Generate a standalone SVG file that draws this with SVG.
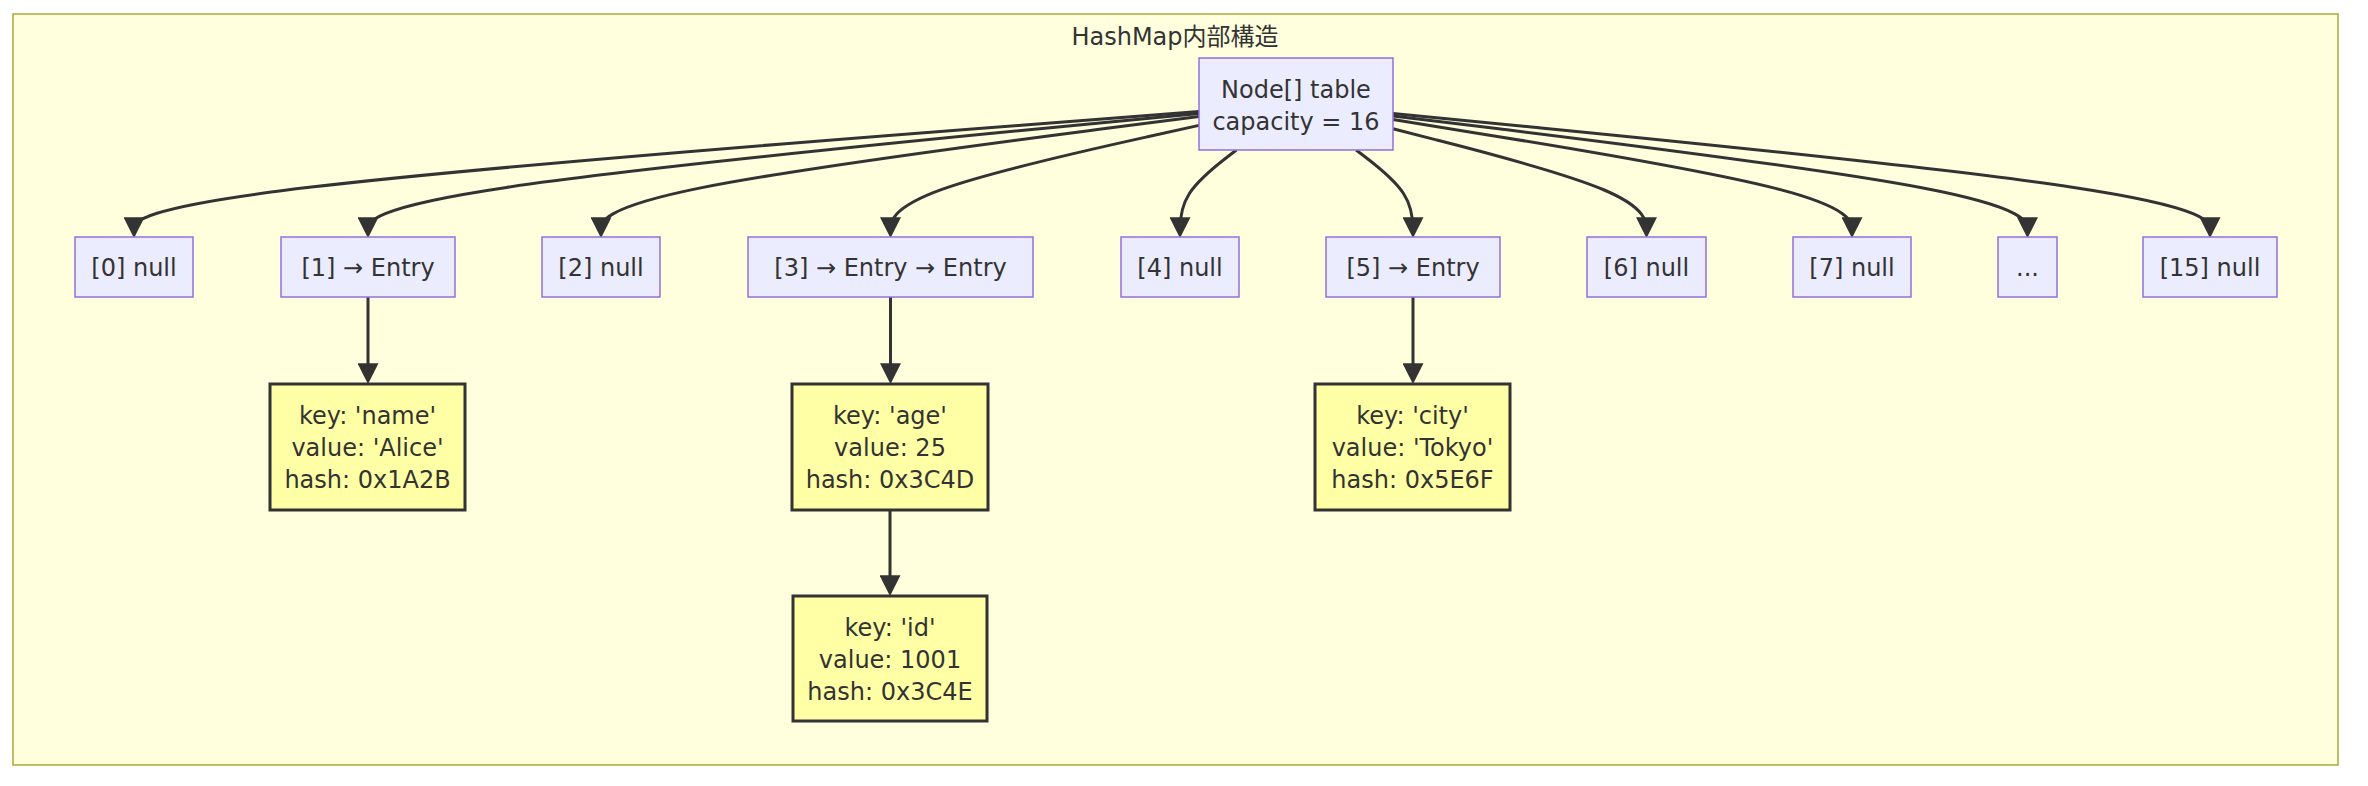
<svg xmlns="http://www.w3.org/2000/svg" width="2368" height="786" viewBox="0 0 2368 786">
<style>
.cluster{fill:#ffffde;stroke:#aaaa33;stroke-width:1.5}
.slot{fill:#ececff;stroke:#9370db;stroke-width:1.5}
.entry{fill:#ffffa5;stroke:#333333;stroke-width:3}
.t{font-family:"DejaVu Sans","Noto Sans CJK JP",sans-serif;font-size:24px;fill:#333333;text-anchor:middle}
.edge{fill:none;stroke:#333333;stroke-width:3;marker-end:url(#arrow)}
</style>
<defs>
<marker id="arrow" viewBox="0 0 10 10" refX="6" refY="5" markerUnits="userSpaceOnUse" markerWidth="21" markerHeight="21" orient="auto">
<path d="M0,0 L10,5 L0,10 z" fill="#333333"/>
</marker>
</defs>
<rect width="2368" height="786" fill="#ffffff"/>
<g id="cluster-hashmap">
<rect class="cluster" x="13" y="14" width="2325" height="751"/>
<text class="t" x="1175" y="45">HashMap内部構造</text>
</g>
<g id="connectors">
<path class="edge" d="M1199,111.5 L1021.5,125.2 C844,138.8 489,166.2 311.5,187.1 C134,208 134,222.5 134,229.75"/>
<path class="edge" d="M1199,113.4 L1060.5,126.75 C922,140.1 645,166.8 506.5,187.4 C368,208 368,222.5 368,229.75"/>
<path class="edge" d="M1199,116.5 L1099.3,129.3 C999.7,142.2 800.3,167.8 700.7,187.9 C601,208 601,222.5 601,229.75"/>
<path class="edge" d="M1199,125.4 L1147.6,136.75 C1096.2,148.1 993.3,170.8 941.9,189.4 C890.5,208 890.5,222.5 890.5,229.75"/>
<path class="edge" d="M1236.4,150 L1227,157.25 C1217.6,164.5 1198.8,179 1189.4,193.5 C1180,208 1180,222.5 1180,229.75"/>
<path class="edge" d="M1356.1,150 L1365.6,157.25 C1375.1,164.5 1394,179 1403.5,193.5 C1413,208 1413,222.5 1413,229.75"/>
<path class="edge" d="M1393,128.8 L1435.25,139.6 C1477.5,150.4 1562,171.9 1604.25,190 C1646.5,208 1646.5,222.5 1646.5,229.75"/>
<path class="edge" d="M1393,119.6 L1469.5,131.9 C1546,144.2 1699,168.9 1775.5,188.4 C1852,208 1852,222.5 1852,229.75"/>
<path class="edge" d="M1393,115.9 L1498.75,128.8 C1604.5,141.8 1816,167.6 1921.75,187.8 C2027.5,208 2027.5,222.5 2027.5,229.75"/>
<path class="edge" d="M1393,113.5 L1529.2,126.8 C1665.3,140.2 1937.7,166.8 2073.8,187.4 C2210,208 2210,222.5 2210,229.75"/>
<path class="edge" d="M368,297 L368,375.75"/>
<path class="edge" d="M890.5,297 L890.5,375.75"/>
<path class="edge" d="M1413,297 L1413,375.75"/>
<path class="edge" d="M890,510 L890,587.75"/>
</g>
<g id="table">
<rect class="slot" x="1199" y="58" width="194" height="92"/>
<text class="t" x="1296" y="97.5">Node[] table</text>
<text class="t" x="1296" y="129.5">capacity = 16</text>
</g>
<g id="slot0"><rect class="slot" x="75" y="237" width="118" height="60"/><text class="t" x="134" y="276">[0] null</text></g>
<g id="slot1"><rect class="slot" x="281" y="237" width="174" height="60"/><text class="t" x="368" y="276">[1] → Entry</text></g>
<g id="slot2"><rect class="slot" x="542" y="237" width="118" height="60"/><text class="t" x="601" y="276">[2] null</text></g>
<g id="slot3"><rect class="slot" x="748" y="237" width="285" height="60"/><text class="t" x="890.5" y="276">[3] → Entry → Entry</text></g>
<g id="slot4"><rect class="slot" x="1121" y="237" width="118" height="60"/><text class="t" x="1180" y="276">[4] null</text></g>
<g id="slot5"><rect class="slot" x="1326" y="237" width="174" height="60"/><text class="t" x="1413" y="276">[5] → Entry</text></g>
<g id="slot6"><rect class="slot" x="1587" y="237" width="119" height="60"/><text class="t" x="1646.5" y="276">[6] null</text></g>
<g id="slot7"><rect class="slot" x="1793" y="237" width="118" height="60"/><text class="t" x="1852" y="276">[7] null</text></g>
<g id="slotdots"><rect class="slot" x="1998" y="237" width="59" height="60"/><text class="t" x="2027.5" y="276">...</text></g>
<g id="slot15"><rect class="slot" x="2143" y="237" width="134" height="60"/><text class="t" x="2210" y="276">[15] null</text></g>
<g id="entry-name">
<rect class="entry" x="270" y="384" width="195" height="126"/>
<text class="t" x="367.5" y="424">key: 'name'</text>
<text class="t" x="367.5" y="456">value: 'Alice'</text>
<text class="t" x="367.5" y="488">hash: 0x1A2B</text>
</g>
<g id="entry-age">
<rect class="entry" x="792" y="384" width="196" height="126"/>
<text class="t" x="890" y="424">key: 'age'</text>
<text class="t" x="890" y="456">value: 25</text>
<text class="t" x="890" y="488">hash: 0x3C4D</text>
</g>
<g id="entry-id">
<rect class="entry" x="793" y="596" width="194" height="125"/>
<text class="t" x="890" y="636">key: 'id'</text>
<text class="t" x="890" y="668">value: 1001</text>
<text class="t" x="890" y="700">hash: 0x3C4E</text>
</g>
<g id="entry-city">
<rect class="entry" x="1315" y="384" width="195" height="126"/>
<text class="t" x="1412.5" y="424">key: 'city'</text>
<text class="t" x="1412.5" y="456">value: 'Tokyo'</text>
<text class="t" x="1412.5" y="488">hash: 0x5E6F</text>
</g>
</svg>
